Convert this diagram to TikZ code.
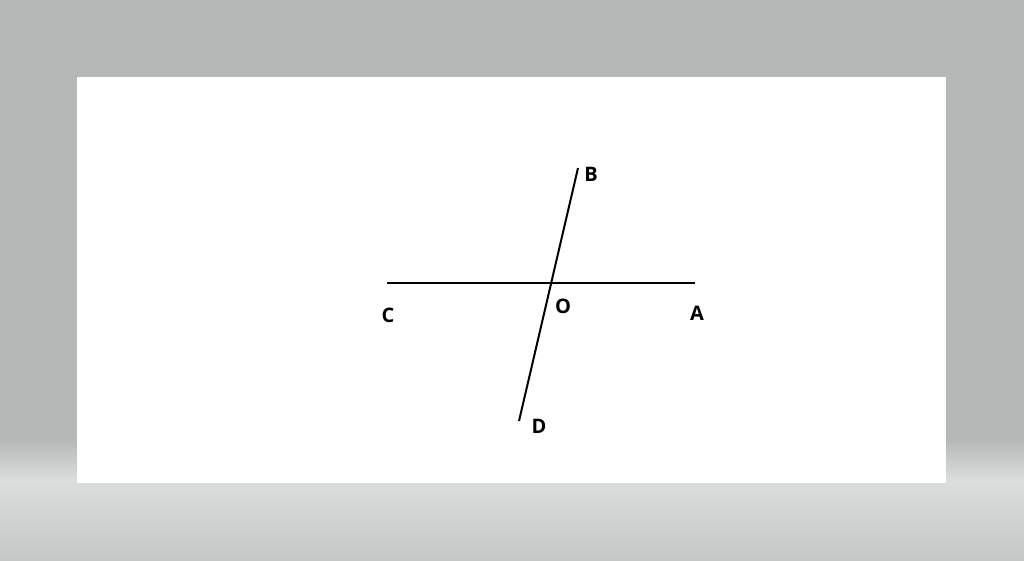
\documentclass[tikz,border=0pt]{standalone}
\usepackage{fontspec}
\setmainfont{Open Sans}
\begin{document}
\begin{tikzpicture}[x=1pt,y=1pt,
  lbl/.style={font=\fontsize{20}{20}\selectfont\bfseries, inner sep=0pt, text=black},
  seg/.style={line width=2pt, black}]
\useasboundingbox (0,0) rectangle (1024,560);
% background
\fill[color={rgb,255:red,182;green,184;blue,183}] (0,120) rectangle (1024,560);
\shade[top color={rgb,255:red,182;green,184;blue,183}, bottom color={rgb,255:red,220;green,222;blue,221}] (0,80) rectangle (1024,120.5);
\shade[top color={rgb,255:red,220;green,222;blue,221}, bottom color={rgb,255:red,197;green,199;blue,198}] (0,0) rectangle (1024,80.5);
\fill[white] (77,77) rectangle (946,483);
% points
\coordinate (C) at (387,277);
\coordinate (A) at (695,277);
\coordinate (B) at (578,392);
\coordinate (D) at (519,139);
\coordinate (O) at (551.2,277);
\draw[seg] (C) -- (A);
\draw[seg] (B) -- (D);
% labels
\node[lbl] (lB) at (591,386) {B};
\node[lbl] (lC) at (388,245) {C};
\node[lbl] (lO) at (563,254) {O};
\node[lbl] (lA) at (697,247) {A};
\node[lbl] (lD) at (539,134) {D};
\end{tikzpicture}
\end{document}
